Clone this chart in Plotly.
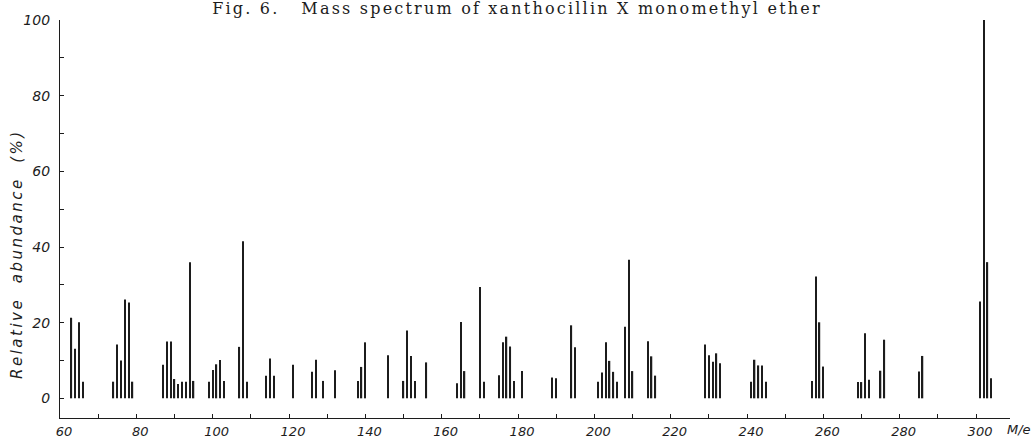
import plotly.graph_objects as go

# m/e values of the peaks
mass = [63, 64, 65, 66,
        74, 75, 76, 77, 78, 79,
        87, 88, 89, 90, 91, 92, 93, 94, 95,
        99, 100, 101, 102, 103,
        107, 108, 109,
        114, 115, 116,
        121,
        126, 127, 129, 132,
        138, 139, 140,
        146,
        150, 151, 152, 153,
        156,
        164, 165, 166,
        170, 171,
        175, 176, 177, 178, 179,
        181,
        189, 190,
        194, 195,
        201, 202, 203, 204, 205, 206,
        208, 209, 210,
        214, 215, 216,
        229, 230, 231, 232, 233,
        241, 242, 243, 244, 245,
        257, 258, 259, 260,
        269, 270, 271, 272,
        275, 276,
        285, 286,
        301, 302, 303, 304]

# relative abundance (%)
abundance = [21.3, 13.1, 20.1, 4.4,
             4.4, 14.2, 10.0, 26.1, 25.3, 4.4,
             8.9, 15.0, 15.0, 5.1, 3.8, 4.4, 4.4, 36.0, 4.6,
             4.4, 7.5, 9.0, 10.1, 4.6,
             13.6, 41.5, 4.4,
             6.0, 10.5, 6.0,
             8.9,
             7.0, 10.2, 4.6, 7.4,
             4.6, 8.3, 14.8,
             11.4,
             4.6, 17.9, 11.2, 4.6,
             9.5,
             4.0, 20.2, 7.2,
             29.4, 4.4,
             6.1, 14.8, 16.3, 13.7, 4.6,
             7.2,
             5.5, 5.3,
             19.3, 13.5,
             4.4, 6.8, 14.8, 9.9, 7.0, 4.4,
             18.9, 36.6, 7.2,
             15.1, 11.1, 6.0,
             14.2, 11.4, 9.7, 11.9, 9.3,
             4.4, 10.2, 8.7, 8.7, 4.4,
             4.6, 32.2, 20.1, 8.4,
             4.3, 4.3, 17.2, 4.9,
             7.3, 15.5,
             7.1, 11.2,
             25.6, 100.0, 36.0, 5.3]

x_ticks = [60, 80, 100, 120, 140, 160, 180, 200, 220, 240, 260, 280, 300]
y_ticks = [0, 20, 40, 60, 80, 100]

title_text = "Fig. 6.\u00a0\u00a0 Mass spectrum of xanthocillin X monomethyl ether"
y_title = "Relative\u00a0 abundance\u00a0 (%)"
x_unit = "M/e"

ink = "#1c1c1c"
y_tick_font = dict(family="DejaVu Sans", size=14, color=ink, style="italic")
x_tick_font = dict(family="DejaVu Sans", size=13, color=ink, style="italic")

fig = go.Figure(go.Bar(
    x=mass, y=abundance, width=0.35,
    marker=dict(color=ink, line=dict(width=0)),
    hoverinfo="x+y",
))

fig.update_layout(
    template="none",
    width=1034, height=441,
    margin=dict(l=60, r=24, t=20, b=23, autoexpand=False),
    paper_bgcolor="white", plot_bgcolor="white",
    showlegend=False,
    title=dict(text=title_text, x=0.5, xref="container", xanchor="center",
               y=1 - 8 / 441, yref="container", yanchor="middle",
               font=dict(family="DejaVu Serif", size=16, color=ink)),
    xaxis=dict(range=[60, 308.9], tickvals=x_ticks, ticktext=[str(v) for v in x_ticks],
               ticks="inside", ticklen=4, tickcolor=ink, tickwidth=1,
               minor=dict(dtick=10, tick0=60, ticks="inside", ticklen=4, tickcolor=ink),
               showline=True, linecolor=ink, linewidth=1.2, showgrid=False, zeroline=False,
               tickfont=x_tick_font, ticklabelstandoff=1, ticklabelshift=4, automargin=False),
    yaxis=dict(range=[-5.2, 100], tickvals=y_ticks, ticktext=[str(v) for v in y_ticks],
               ticks="inside", ticklen=4, tickcolor=ink, tickwidth=1,
               minor=dict(dtick=10, tick0=0, ticks="inside", ticklen=4, tickcolor=ink),
               showline=True, linecolor=ink, linewidth=1.2, showgrid=False, zeroline=False,
               tickfont=y_tick_font, ticklabelstandoff=6, automargin=False),
    annotations=[
        dict(text=y_title, xref="paper", yref="paper", x=(17 - 60) / 950, y=(418 - 254) / 398,
             xanchor="center", yanchor="middle", textangle=-90, showarrow=False,
             font=dict(family="DejaVu Sans", size=15, color=ink, style="italic")),
        dict(text=x_unit, xref="paper", yref="paper", x=(1005 - 60) / 950, y=(418 - 430) / 398,
             xanchor="left", yanchor="middle", showarrow=False,
             font=dict(family="DejaVu Sans", size=13, color=ink, style="italic")),
    ],
)

spacing_js = """
var gd = document.getElementById('{plot_id}');
gd.querySelectorAll('text.gtitle').forEach(function (t) { t.style.letterSpacing = '2.2px'; });
gd.querySelectorAll('text.annotation-text').forEach(function (t) {
  if (t.textContent.indexOf('Relative') === 0) { t.style.letterSpacing = '2.5px'; }
});
"""

fig.write_html("out.html", post_script=spacing_js)
